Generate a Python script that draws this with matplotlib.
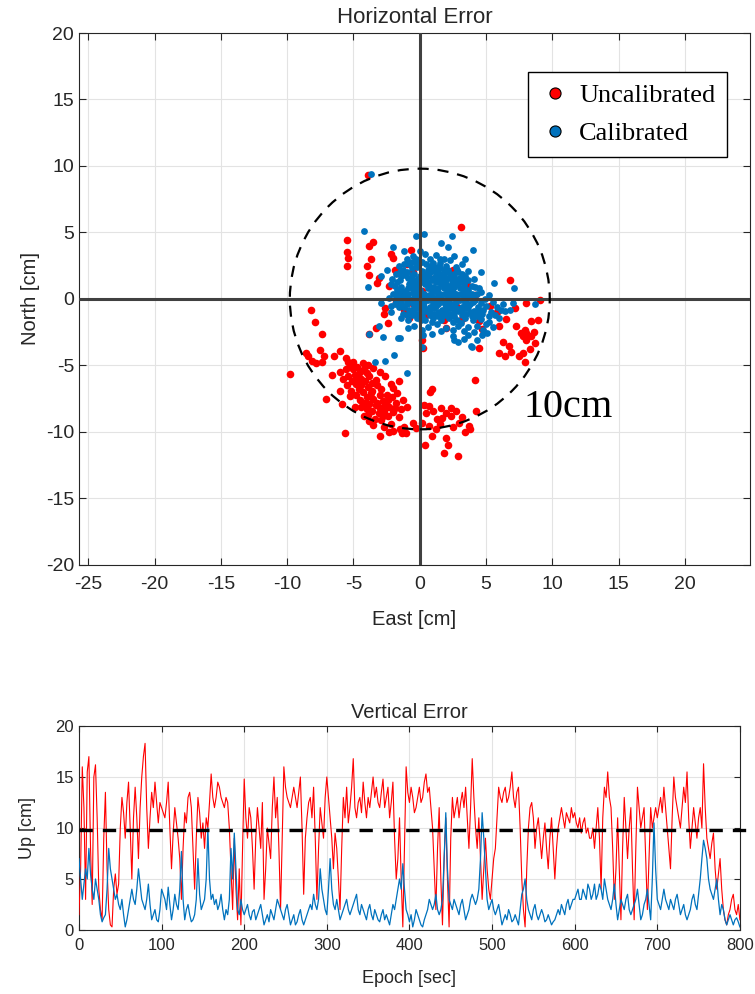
import matplotlib
matplotlib.use('Agg')
import matplotlib.pyplot as plt
import matplotlib.patches as patches
from matplotlib.lines import Line2D
import numpy as np

plt.rcParams['font.family'] = ['Liberation Sans', 'DejaVu Sans']
plt.rcParams['axes.unicode_minus'] = False

RED = '#FF0000'
BLUE = '#0072BD'
INK = '#262626'

# ---- horizontal error scatter (cm) ----
red_pts = [
    # scattered upper / middle points
    (-3.9, 9.3), (3.1, 5.4), (-5.5, 4.4), (-3.8, 4.0), (-3.55, 4.3), (-5.5, 3.5),
    (-5.4, 3.1), (-5.5, 2.5), (-3.65, 3.0), (-4.0, 2.5), (-3.8, 1.8), (-3.1, 1.6),
    (-3.25, 1.2), (-0.7, 3.7), (-2.2, 3.4), (-2.0, 3.1), (6.8, 1.45), (8.0, -0.3),
    (9.1, -0.1), (-8.2, -0.85), (-7.9, -1.75), (-7.4, -2.65), (-2.6, -0.7),
    (-2.7, -1.1), (-3.3, -2.2), (-3.8, -2.6), (4.5, -1.65), (4.7, -2.25),
    (4.5, -3.7), (4.2, -6.1), (0.2, -3.05), (0.25, -3.7),
    # right group
    (6.0, -2.05), (7.25, -2.0), (7.6, -2.55), (7.8, -2.8), (8.0, -3.05), (8.4, -2.8),
    (8.7, -3.3), (8.3, -3.75), (7.75, -4.05), (7.5, -4.3), (7.95, -4.7), (6.25, -3.2),
    (6.7, -3.5), (6.9, -3.95), (6.4, -4.3), (6.0, -4.05), (8.4, -1.65), (8.95, -1.55),
    (8.0, -2.55), (7.9, -2.35), (7.2, -0.7), (5.8, -1.0), (6.5, -1.5), (8.6, -2.5),
    # under the calibrated blob
    (-2.3, 1.0), (-1.5, 0.5), (-1.2, -0.8), (-0.8, -1.4), (0.5, -1.2), (1.0, 1.5),
    (2.5, 2.2), (-0.5, 2.0), (3.6, 1.0), (2.8, -0.6), (-1.8, -0.2), (1.8, -1.6),
    (0.2, 0.6), (-0.6, -0.3), (4.2, 0.3), (3.2, -1.5), (-1.0, 2.6), (-1.9, 2.2),
    (2.0, -2.2), (5.3, -0.5), (-2.4, -1.8),
    # left group
    (-9.8, -5.65), (-8.6, -4.05), (-8.4, -4.3), (-8.15, -4.65), (-7.85, -4.8),
    (-7.35, -4.7), (-7.2, -4.3), (-7.5, -3.8), (-6.5, -4.3), (-6.0, -3.9),
    (-5.6, -4.45), (-5.4, -4.75), (-7.1, -7.55), (-5.65, -10.05), (-6.65, -5.7),
    (-6.0, -6.9), (-3.0, -10.3), (-1.05, -10.1), (-1.35, -10.1),
    # lower-left dense group
    (-5.3, -5.0), (-5.0, -5.3), (-4.7, -5.1), (-4.9, -5.7), (-5.4, -5.8), (-4.5, -5.5),
    (-4.2, -5.3), (-4.4, -6.0), (-5.1, -6.2), (-4.8, -6.4), (-4.1, -6.2), (-3.8, -5.8),
    (-3.5, -5.2), (-3.9, -6.6), (-4.6, -6.8), (-5.2, -6.9), (-4.3, -7.0), (-3.6, -6.9),
    (-3.2, -6.5), (-3.0, -7.2), (-3.5, -7.5), (-4.0, -7.4), (-4.5, -7.6), (-3.8, -7.9),
    (-3.3, -8.0), (-2.8, -7.7), (-2.5, -7.2), (-2.3, -8.1), (-2.7, -8.4), (-3.1, -8.6),
    (-3.6, -8.4), (-4.0, -8.3), (-3.4, -9.0), (-2.9, -9.1), (-2.4, -8.8), (-2.0, -8.5),
    (-1.8, -7.8), (-2.1, -7.4), (-1.6, -8.9), (-2.2, -9.4), (-2.7, -9.6), (-3.8, -9.2),
    (-4.2, -8.8), (-1.5, -9.8), (-1.2, -9.6), (-5.6, -5.3), (-5.8, -6.0), (-5.0, -4.7),
    (-4.3, -4.8), (-3.9, -5.0), (-4.6, -6.3), (-5.5, -6.5), (-3.3, -6.1), (-2.9, -6.8),
    (-2.0, -6.7), (-1.7, -7.1), (-1.3, -7.6), (-1.4, -8.3), (-3.7, -7.1), (-4.1, -7.8),
    (-2.6, -8.0), (-3.0, -8.2), (-2.2, -6.4), (-1.0, -8.1), (-4.8, -7.2), (-5.3, -7.3),
    (-3.5, -9.5), (-2.0, -9.9), (-3.2, -7.8), (-4.4, -6.5), (-4.0, -5.6), (-4.7, -5.9),
    (-3.6, -6.3), (-2.4, -7.6), (-1.9, -8.2), (-2.8, -8.8), (-3.9, -8.7), (-4.4, -8.1),
    (-1.6, -6.2), (-2.6, -5.8), (-3.0, -5.5), (-6.0, -5.5), (-5.9, -7.9), (-4.9, -8.1),
    (-2.3, -10.0),
    # lower-right group
    (0.3, -7.95), (0.7, -8.05), (0.95, -6.8), (0.8, -7.0), (1.6, -8.2), (1.7, -8.95),
    (2.35, -8.2), (2.35, -8.8), (2.7, -8.4), (2.95, -9.3), (3.7, -9.55), (3.75, -9.75),
    (4.25, -8.45), (1.3, -9.0), (1.95, -10.45), (2.1, -10.95), (0.4, -10.95),
    (1.8, -11.6), (2.9, -11.8), (0.95, -10.3), (0.7, -9.55), (1.2, -9.8), (0.5, -8.6),
    (1.0, -8.4), (2.0, -8.6), (3.2, -8.9), (1.5, -9.4), (-0.3, -9.7), (-0.5, -9.3),
    (0.2, -9.3), (2.5, -9.6), (3.4, -10.0),
]

blue_pts = [
    # outliers
    (-3.7, 9.4), (-4.2, 5.1), (0.3, 4.9), (-0.3, 4.7), (2.4, 4.75), (4.0, 3.7),
    (-2.0, 3.9), (-1.2, 3.6), (1.6, 4.2), (2.1, 3.9), (3.4, 3.0), (4.6, 2.0),
    (5.6, 1.2), (7.1, 0.8), (8.65, -0.4), (7.0, -0.3), (6.4, -0.9), (6.0, -1.4),
    (5.5, -2.1), (5.1, -2.55), (3.85, -3.5), (3.3, -3.0), (2.6, -3.1), (0.2, -3.6),
    (-1.5, -2.9), (-3.8, -2.6), (-3.1, -2.0), (-2.2, -1.0), (-2.2, -0.5), (-2.9, -0.3),
    (-3.9, 0.9), (-2.9, 1.7), (-2.5, 2.2), (-1.96, -4.2), (-2.64, -4.64), (-1.0, -5.6),
    (-3.4, -4.7), (-2.77, -2.83), (-1.64, -2.96), (0.25, -2.7), (2.5, -2.8), (2.9, -3.2),
    (3.65, -2.7), (3.9, -3.6), (4.3, -3.1), (4.66, -2.7), (0.9, -2.6),
    # dense blob
    (-0.5, 3.2), (0.4, 3.4), (1.2, 3.3), (1.8, 3.0), (0.8, 3.0), (-1.0, 3.0), (2.6, 3.2),
    (0.0, 3.6), (-1.6, 2.5), (-0.8, 2.6), (-0.2, 2.4), (0.5, 2.6), (1.0, 2.4), (1.5, 2.7),
    (2.0, 2.5), (2.7, 2.4), (3.2, 2.6), (-1.3, 2.2), (-1.8, 1.9), (-1.0, 2.0), (-0.4, 1.9),
    (0.2, 2.1), (0.7, 1.9), (1.3, 2.0), (1.8, 2.2), (2.3, 1.9), (2.9, 2.0), (3.6, 2.1),
    (-2.1, 1.5), (-1.5, 1.4), (-0.9, 1.6), (-0.3, 1.4), (0.3, 1.6), (0.9, 1.4), (1.4, 1.6),
    (2.0, 1.5), (2.5, 1.4), (3.0, 1.6), (3.6, 1.4), (4.1, 1.5), (-1.9, 1.0), (-1.4, 0.9),
    (-0.8, 1.1), (-0.2, 0.9), (0.4, 1.1), (1.0, 0.9), (1.6, 1.1), (2.2, 0.9), (2.8, 1.1),
    (3.3, 0.9), (3.9, 1.0), (4.5, 0.8), (-2.0, 0.4), (-1.5, 0.6), (-0.9, 0.4), (-0.3, 0.6),
    (0.3, 0.4), (0.9, 0.6), (1.5, 0.4), (2.1, 0.6), (2.7, 0.4), (3.3, 0.6), (3.9, 0.4),
    (4.6, 0.5), (5.2, 0.3), (-1.8, -0.1), (-1.2, 0.1), (-0.6, -0.1), (0.0, 0.1), (0.6, -0.1),
    (1.2, 0.1), (1.8, -0.1), (2.4, 0.1), (3.0, -0.1), (3.6, 0.1), (4.2, -0.1), (4.9, 0.0),
    (5.5, -0.2), (-1.6, -0.6), (-1.0, -0.4), (-0.4, -0.6), (0.2, -0.4), (0.8, -0.6),
    (1.4, -0.4), (2.0, -0.6), (2.6, -0.4), (3.2, -0.6), (3.8, -0.4), (4.4, -0.6), (5.0, -0.5),
    (5.8, -0.6), (6.3, -0.4), (-1.3, -1.1), (-0.7, -0.9), (-0.1, -1.1), (0.5, -0.9),
    (1.1, -1.1), (1.7, -0.9), (2.3, -1.1), (2.9, -0.9), (3.5, -1.1), (4.1, -0.9), (4.7, -1.1),
    (5.4, -1.0), (-0.9, -1.6), (-0.2, -1.4), (0.4, -1.6), (1.0, -1.4), (1.6, -1.6),
    (2.2, -1.4), (2.8, -1.6), (3.4, -1.4), (4.0, -1.6), (4.6, -1.5), (5.2, -1.7),
    (-0.4, -2.0), (0.6, -2.1), (1.3, -1.9), (2.0, -2.2), (2.9, -2.0), (3.6, -2.1),
    (4.3, -2.0), (4.8, -2.3), (-1.1, 1.8), (-0.5, 1.2), (0.1, 1.3), (0.6, 1.2), (1.2, 1.3),
    (1.8, 1.3), (2.4, 1.2), (3.0, 1.3), (-1.2, 0.3), (-0.6, 0.8), (0.0, 0.7), (0.6, 0.8),
    (1.2, 0.7), (1.8, 0.8), (2.4, 0.7), (3.0, 0.8), (3.6, 0.7), (-1.0, -0.2), (-0.3, 0.2),
    (0.3, -0.2), (0.9, 0.2), (1.5, -0.2), (2.1, 0.2), (2.7, -0.2), (3.3, 0.2), (4.0, 0.3),
    (-0.8, -0.8), (-0.1, -0.7), (0.5, -0.8), (1.1, -0.7), (1.7, -0.8), (2.3, -0.7),
    (2.9, -0.8), (3.5, -0.7), (4.3, -1.3), (0.2, -1.3), (0.8, -1.2), (1.4, -1.3), (2.0, -1.2),
    (2.6, -1.3), (3.2, -1.2), (0.0, 1.7), (0.6, 1.7), (1.2, 1.8), (1.8, 1.7), (-0.6, 2.3),
    (1.0, 2.7), (2.3, 2.9),
    # extra fill of the core
    (-1.4, 1.7), (-0.7, 1.4), (-0.1, 1.5), (0.5, 1.4), (1.1, 1.6), (1.6, 1.4), (2.2, 1.6),
    (2.8, 1.5), (3.4, 1.7), (-1.7, 0.7), (-1.1, 0.6), (-0.5, 0.5), (0.1, 0.4), (0.7, 0.3),
    (1.3, 0.5), (1.9, 0.4), (2.5, 0.5), (3.1, 0.4), (3.7, 0.4), (4.3, 0.4), (-1.4, -0.3),
    (-0.8, 0.0), (-0.2, -0.3), (0.4, 0.0), (1.0, -0.3), (1.6, 0.0), (2.2, -0.3), (2.8, 0.0),
    (3.4, -0.3), (4.0, -0.2), (4.6, -0.3), (-1.0, -1.2), (-0.4, -1.0), (0.2, -0.9),
    (0.8, -1.0), (1.4, -1.0), (2.0, -0.9), (2.6, -1.0), (3.2, -0.9), (3.8, -1.0),
    (-0.6, 2.8), (0.2, 2.8), (0.8, 2.5), (1.5, 2.3), (2.1, 2.2), (-0.3, 3.0), (1.5, 3.0),
    (-1.5, 2.0), (2.6, 1.9), (3.2, 1.9), (-0.4, 0.3), (0.5, 0.1), (1.4, 0.2), (2.3, 0.3),
    (0.0, -0.4), (1.2, -0.5), (2.4, -0.5), (3.5, 0.0), (-1.8, 0.3), (4.8, -0.8),
    (-1.2, 2.6), (-0.3, 2.7), (0.6, 2.2), (1.3, 2.4), (2.0, 2.0), (2.8, 2.2), (-2.2, 1.1),
    (-1.7, 1.3), (-0.6, 1.8), (0.3, 1.9), (0.9, 2.1), (1.5, 1.9), (2.5, 1.7), (3.3, 1.4),
    (-2.3, 0.1), (-1.6, 0.2), (-0.9, 0.8), (-0.1, 1.1), (0.7, 1.0), (1.4, 0.8), (2.0, 1.1),
    (2.6, 0.9), (3.3, 1.1), (4.2, 0.9), (-1.9, -0.4), (-1.2, -0.6), (-0.5, -0.3), (0.3, -0.6),
    (1.1, -0.2), (1.9, -0.4), (2.7, -0.7), (3.6, -0.6), (4.5, -0.9), (5.2, -1.3),
    (-1.4, -1.4), (-0.6, -1.2), (0.1, -1.6), (0.9, -1.7), (1.7, -1.3), (2.5, -1.7),
    (3.1, -1.8), (3.9, -1.3), (5.0, -1.9), (5.7, -1.2), (6.1, -0.8), (6.8, -0.8),
    (-0.9, -2.2), (0.2, -2.3), (1.6, -2.4), (2.5, -2.3), (3.3, -2.4), (4.1, -2.5),
]

red_east = [p[0] for p in red_pts]
red_north = [p[1] for p in red_pts]
blue_east = [p[0] for p in blue_pts]
blue_north = [p[1] for p in blue_pts]

# ---- vertical error, sampled every 2 s ----
epoch = list(range(0, 801, 2))
up_uncal = [
    # 0-98
    1.5, 6, 16, 12, 3, 15.5, 17, 8, 2.5, 15,
    16.2, 11, 4, 2, 1, 9, 13.5, 6, 2, 0.5,
    0.3, 4, 5.5, 3.5, 4.5, 10, 13, 11.5, 9, 12.5,
    14.5, 10, 5, 11, 14, 11, 7, 12, 15, 17,
    18.3, 12, 8, 11, 13.5, 12, 14.5, 12.5, 10.5, 12.5,
    # 100-198
    12, 11.5, 11, 12.5, 14.5, 10, 6, 9.5, 12, 10.5,
    9, 7, 3, 8, 11.5, 10.5, 13, 13.5, 12, 8,
    4, 9, 13, 11.5, 9, 10.5, 8, 11, 10, 12.5,
    15.3, 13, 12, 13, 14.5, 14, 13, 12.5, 12, 13,
    12.5, 10, 6, 2, 9, 4, 1, 6, 0.5, 8,
    # 200-298
    14.8, 11, 9, 12, 11, 8, 4, 9, 12, 10,
    8, 12.5, 3, 6, 10, 8.5, 7, 12, 15, 11,
    13, 8, 2, 9, 16, 14, 13, 12.5, 12, 13,
    14, 13, 12, 13.5, 15, 10, 3.5, 9, 11, 12.5,
    13, 11, 14, 9, 3, 8, 12, 10.5, 9, 13,
    # 300-398
    15, 13, 11, 9, 6, 9.5, 8, 5, 2, 8,
    13, 11, 14, 10.5, 12, 14, 16.8, 12, 11, 12.5,
    13, 11.5, 14.5, 12.5, 11, 13, 12, 13.5, 15, 13,
    14, 12.5, 12, 13.5, 14.8, 12, 13, 14, 11, 12.5,
    14.5, 9, 5, 7, 11, 5, 0.3, 8, 16, 13.5,
    # 400-498
    12.5, 14, 13, 11.5, 12, 13, 14, 12.5, 13, 14.5,
    15.3, 13.5, 14, 12, 10, 6, 2, 8, 12, 5,
    0.5, 7, 11, 5, 0.3, 9, 13, 11, 12, 13,
    11, 12.5, 13.5, 12, 14, 11, 8, 12, 16.8, 13,
    10, 8, 11, 7, 3, 6, 9, 6, 4, 3,
    # 500-598
    5, 7, 8, 11, 14, 13, 12.5, 13.5, 14, 12.5,
    13, 14, 15.5, 13, 12, 13.5, 14, 10, 5, 2,
    0.3, 6, 10, 12, 12.5, 11, 8, 10, 11, 9,
    7, 9, 10.5, 8, 6, 9, 11, 8, 5, 8,
    10, 11, 12, 11, 10, 11.5, 11, 10.5, 12, 11,
    # 600-698
    11.5, 10.5, 10, 11, 9.5, 10.5, 11, 9.5, 10, 9,
    9, 10, 8, 10, 12, 9, 4, 11, 14, 13,
    15.5, 13, 12, 8, 3, 6, 11, 6, 1, 8,
    13, 10, 7, 10, 12, 6, 1, 8, 14, 12,
    10, 11, 12, 7, 2, 7, 12, 10, 11, 12,
    # 700-800
    11, 12, 13, 11.5, 14, 12, 10, 8, 6, 11,
    15, 13, 12, 11, 10, 12, 14, 12.5, 15.5, 11,
    8, 10, 12, 10.5, 9, 11, 12, 10, 16.3, 12,
    9, 8, 7, 8.5, 9.5, 6, 4, 5.5, 7, 4,
    2, 1, 0.5, 1.5, 2, 3, 3.5, 2, 1.5, 2.5,
    1,
]
up_cal = [
    # 0-98
    7, 5, 3, 4.5, 6, 5, 8, 5.5, 4, 3,
    5, 4, 3, 1.5, 0.8, 1.2, 1.5, 4, 8, 6,
    5, 4, 3, 3.5, 2.5, 2, 3, 1.5, 0.3, 1,
    2, 3, 4, 3, 2.5, 4, 6, 4.5, 3, 2.5,
    2, 3, 4.5, 2.5, 1, 1.5, 2, 1, 0.8, 2,
    # 100-198
    4, 3.5, 3, 2, 4.2, 2.5, 1, 2, 3.5, 2.5,
    2, 4, 7.7, 3, 1, 2, 2.5, 1.5, 0.8, 1,
    1.5, 3, 7, 3.5, 2, 2.5, 3, 5, 10, 5,
    3, 3.5, 2.5, 3, 2, 2.5, 3.5, 2, 1, 2,
    1.5, 3, 8, 5, 9.5, 6, 2, 1.5, 3, 2,
    # 200-298
    1.5, 2, 2.5, 1.5, 1, 1.8, 2, 1, 1.5, 2,
    2.5, 1.5, 0.5, 1, 1.5, 0.8, 2, 1.5, 1, 2,
    3, 2.5, 2, 1.5, 1, 2, 2.5, 1.5, 0.5, 1,
    1.5, 0.5, 0.8, 1.5, 2, 1, 0.5, 1, 1.5, 2,
    2.5, 2, 3.5, 2.5, 2, 3, 6, 4, 3, 2,
    # 300-398
    1.5, 4, 7, 4, 2.5, 2, 3, 2, 1, 1.5,
    2, 2.5, 3, 2, 1.5, 2, 2.5, 3, 3.5, 2,
    1.5, 2.5, 2, 1.5, 1, 2, 2.5, 1.5, 1, 2,
    1.5, 1, 0.8, 1.5, 2, 1, 1.5, 1, 0.5, 1.5,
    2.5, 2, 3, 4, 5, 4, 6.5, 4, 2, 1.5,
    # 400-498
    0.8, 1.5, 0.3, 1, 2, 1.5, 1, 0.5, 0.3, 1,
    1.5, 2, 3, 2.5, 2, 2.5, 3.5, 2, 1.5, 2,
    3, 7, 11.5, 6, 3, 2.5, 2, 3, 2.5, 2,
    1.5, 2.5, 3, 2, 1, 1.5, 2, 3, 3.5, 3,
    2.5, 3, 4, 7, 11.5, 9, 6, 3, 2, 2.5,
    # 500-598
    3, 2, 1.5, 2, 2.5, 1.5, 0.5, 1, 1.5, 1,
    2, 1.5, 0.8, 1, 1.5, 1, 0.5, 2, 3.5, 4,
    5, 3, 2, 1.5, 1, 2, 2.5, 1.5, 1, 1.5,
    2, 1.5, 0.8, 1, 1.5, 1, 0.5, 0.8, 1, 1.5,
    2, 1.5, 2.5, 2, 1.5, 2.5, 3, 2, 2.5, 3,
    # 600-698
    3, 3.5, 4, 3, 3, 4, 3.5, 3, 4.5, 4,
    3, 3.5, 4.5, 3, 3.5, 4.5, 4, 3, 5, 4,
    3, 2.5, 2, 3, 4.5, 2.5, 1, 2, 3, 2.5,
    2, 3, 3.5, 2, 1.5, 2, 2.5, 3, 4, 2.5,
    1, 1.5, 2.5, 3, 4, 2.5, 1, 5, 10.5, 6,
    # 700-800
    3, 2.5, 2, 3, 4, 3, 2.5, 2, 3, 2.5,
    2, 3, 3.5, 2.5, 1.5, 2, 2.5, 1.5, 1, 1.5,
    2, 3, 3.5, 2.5, 2, 3.5, 5, 7, 8.8, 8,
    7, 5, 4, 3.5, 3, 4, 5, 3, 1.5, 2.5,
    2, 1, 0.5, 1, 1.5, 1, 0.5, 1, 1.2, 0.8,
    0.3,
]

fig = plt.figure(figsize=(7.55, 9.94), dpi=100)

# ---------- top: horizontal error ----------
ax = fig.add_axes([0.1046, 0.4316, 0.8888, 0.5352])
ax.scatter(red_east, red_north, s=30, c=RED, linewidths=0, zorder=3)
ax.scatter(blue_east, blue_north, s=24, c=BLUE, linewidths=0, zorder=4)
ax.axhline(0, color='#404040', lw=2.2, zorder=5)
ax.axvline(0, color='#404040', lw=2.2, zorder=5)
circ = patches.Circle((0, 0), 9.8, fill=False, ls=(0, (5, 4)), lw=1.6,
                      color='black', zorder=6)
ax.add_patch(circ)
ax.text(7.8, -8.9, '10cm', family='Liberation Serif', fontsize=29,
        color='black', zorder=7)

ax.set_xlim(-25.7, 24.9)
ax.set_ylim(-20, 20)
ax.set_xticks(np.arange(-25, 21, 5))
ax.set_yticks(np.arange(-20, 21, 5))
ax.grid(True, color='#e3e3e3', lw=0.8)
ax.set_axisbelow(True)
ax.tick_params(direction='in', top=True, right=True, labelsize=14, colors=INK,
               length=5)
ax.tick_params(axis='x', pad=8)
for s in ax.spines.values():
    s.set_color(INK)
ax.set_xlabel('East [cm]', fontsize=14.5, color=INK, labelpad=12)
ax.set_ylabel('North [cm]', fontsize=14.5, color=INK, labelpad=4)
ax.set_title('Horizontal Error', fontsize=16, color=INK, pad=7)

handles = [
    Line2D([], [], ls='none', marker='o', ms=8, mfc=RED, mec='black', mew=0.8),
    Line2D([], [], ls='none', marker='o', ms=8, mfc=BLUE, mec='black', mew=0.8),
]
leg = ax.legend(handles, ['Uncalibrated', 'Calibrated'], loc='upper right',
                bbox_to_anchor=(0.966, 0.927), borderaxespad=0,
                prop={'family': 'Liberation Serif', 'size': 19},
                frameon=True, fancybox=False, edgecolor='black', framealpha=1,
                handletextpad=0.3, borderpad=0.45, labelspacing=0.55, handlelength=1.2)
leg.get_frame().set_linewidth(1.0)
leg.set_zorder(10)

# ---------- bottom: vertical error ----------
bx = fig.add_axes([0.1046, 0.0644, 0.8754, 0.2052])
bx.plot(epoch, up_uncal, color=RED, lw=0.8, zorder=3)
bx.plot(epoch, up_cal, color=BLUE, lw=0.9, zorder=4)
bx.plot([0, 835], [9.8, 9.8], color='black', lw=2.4, ls=(0, (4, 3)),
        clip_on=False, zorder=5)
bx.set_xlim(0, 800)
bx.set_ylim(0, 20)
bx.set_xticks(np.arange(0, 801, 100))
bx.set_yticks(np.arange(0, 21, 5))
bx.grid(True, color='#e3e3e3', lw=0.8)
bx.set_axisbelow(True)
bx.tick_params(direction='in', top=True, right=True, labelsize=12, colors=INK,
               length=4)
bx.tick_params(axis='x', pad=6)
for s in bx.spines.values():
    s.set_color(INK)
bx.set_xlabel('Epoch [sec]', fontsize=13, color=INK, labelpad=12)
bx.set_ylabel('Up [cm]', fontsize=13, color=INK, labelpad=14)
bx.set_title('Vertical Error', fontsize=14.5, color=INK, pad=6)

fig.savefig('out.png', dpi=100)
